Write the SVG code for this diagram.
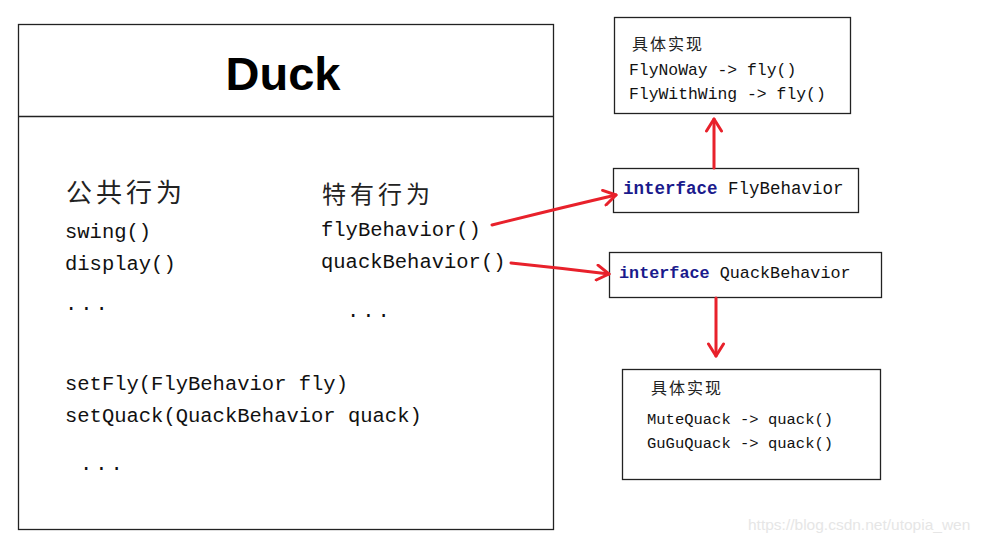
<svg xmlns="http://www.w3.org/2000/svg" width="983" height="543" viewBox="0 0 983 543">
<defs>
<style>
.box{fill:#fff;stroke:#222;stroke-width:1.3}
.mono{font-family:"Liberation Mono","DejaVu Sans Mono",monospace;fill:#111}
.cjk{font-family:"Noto Sans CJK SC","Noto Sans CJK JP",serif;fill:#222}
.kw{font-weight:bold;fill:#1a1a8c}
.arrow{fill:none;stroke:#e8212b;stroke-width:3;stroke-linecap:round;stroke-linejoin:round}
</style>
<marker id="head" viewBox="0 0 12 12" refX="10" refY="6" markerWidth="6" markerHeight="6" orient="auto" markerUnits="strokeWidth">
<polyline points="2,1 10,6 2,11" fill="none" stroke="#e8212b" stroke-width="2" stroke-linecap="round" stroke-linejoin="round"/>
</marker>
</defs>
<rect width="983" height="543" fill="#fff"/>
<g id="duck">
<rect class="box" x="18.5" y="24.5" width="535" height="505"/>
<line x1="18.5" y1="116.5" x2="553.5" y2="116.5" stroke="#222" stroke-width="1.3"/>
<text x="283" y="90" text-anchor="middle" font-family="'Liberation Sans',Arial,sans-serif" font-weight="bold" font-size="47" fill="#000">Duck</text>
<text class="cjk" x="66" y="202" font-size="26" letter-spacing="4">公共行为</text>
<text class="cjk" x="322" y="203" font-size="24" letter-spacing="4">特有行为</text>
<text class="mono" x="65" y="238" font-size="20.5">swing()</text>
<text class="mono" x="65" y="270" font-size="20.5">display()</text>
<text class="mono" x="65" y="310" font-size="20.5" letter-spacing="3">...</text>
<text class="mono" x="321" y="236" font-size="20.5">flyBehavior()</text>
<text class="mono" x="321" y="268" font-size="20.5">quackBehavior()</text>
<text class="mono" x="347" y="317" font-size="20.5" letter-spacing="3">...</text>
<text class="mono" x="65" y="390" font-size="20.5">setFly(FlyBehavior fly)</text>
<text class="mono" x="65" y="422" font-size="20.5">setQuack(QuackBehavior quack)</text>
<text class="mono" x="80" y="470" font-size="20.5" letter-spacing="3">...</text>
</g>
<g id="fly-impl">
<rect class="box" x="614.5" y="17.5" width="236" height="96"/>
<text class="cjk" x="632" y="50" font-size="16" letter-spacing="2">具体实现</text>
<text class="mono" x="629" y="75" font-size="16.4">FlyNoWay -&gt; fly()</text>
<text class="mono" x="629" y="99" font-size="16.4">FlyWithWing -&gt; fly()</text>
</g>
<g id="fly-interface">
<rect class="box" x="613.5" y="168.5" width="245" height="44"/>
<text class="mono" x="623" y="194" font-size="17.5"><tspan class="kw">interface</tspan> FlyBehavior</text>
</g>
<g id="quack-interface">
<rect class="box" x="609.5" y="252.5" width="272" height="45"/>
<text class="mono" x="619" y="278" font-size="16.8"><tspan class="kw">interface</tspan> QuackBehavior</text>
</g>
<g id="quack-impl">
<rect class="box" x="622.5" y="369.5" width="258" height="110"/>
<text class="cjk" x="651" y="394" font-size="16" letter-spacing="2">具体实现</text>
<text class="mono" x="647" y="424" font-size="15.5">MuteQuack -&gt; quack()</text>
<text class="mono" x="647" y="448" font-size="15.5">GuGuQuack -&gt; quack()</text>
</g>
<g id="connectors">
<path class="arrow" d="M492,225 Q560,208 616,195" marker-end="url(#head)"/>
<path class="arrow" d="M511,263 Q560,268 609,274" marker-end="url(#head)"/>
<path class="arrow" d="M714,168 L714,119" marker-end="url(#head)"/>
<path class="arrow" d="M716,298 L716,356" marker-end="url(#head)"/>
</g>
<text x="748" y="530" font-family="'Liberation Sans',Arial,sans-serif" font-size="15.5" fill="#e6e6e6">https://blog.csdn.net/utopia_wen</text>
</svg>
